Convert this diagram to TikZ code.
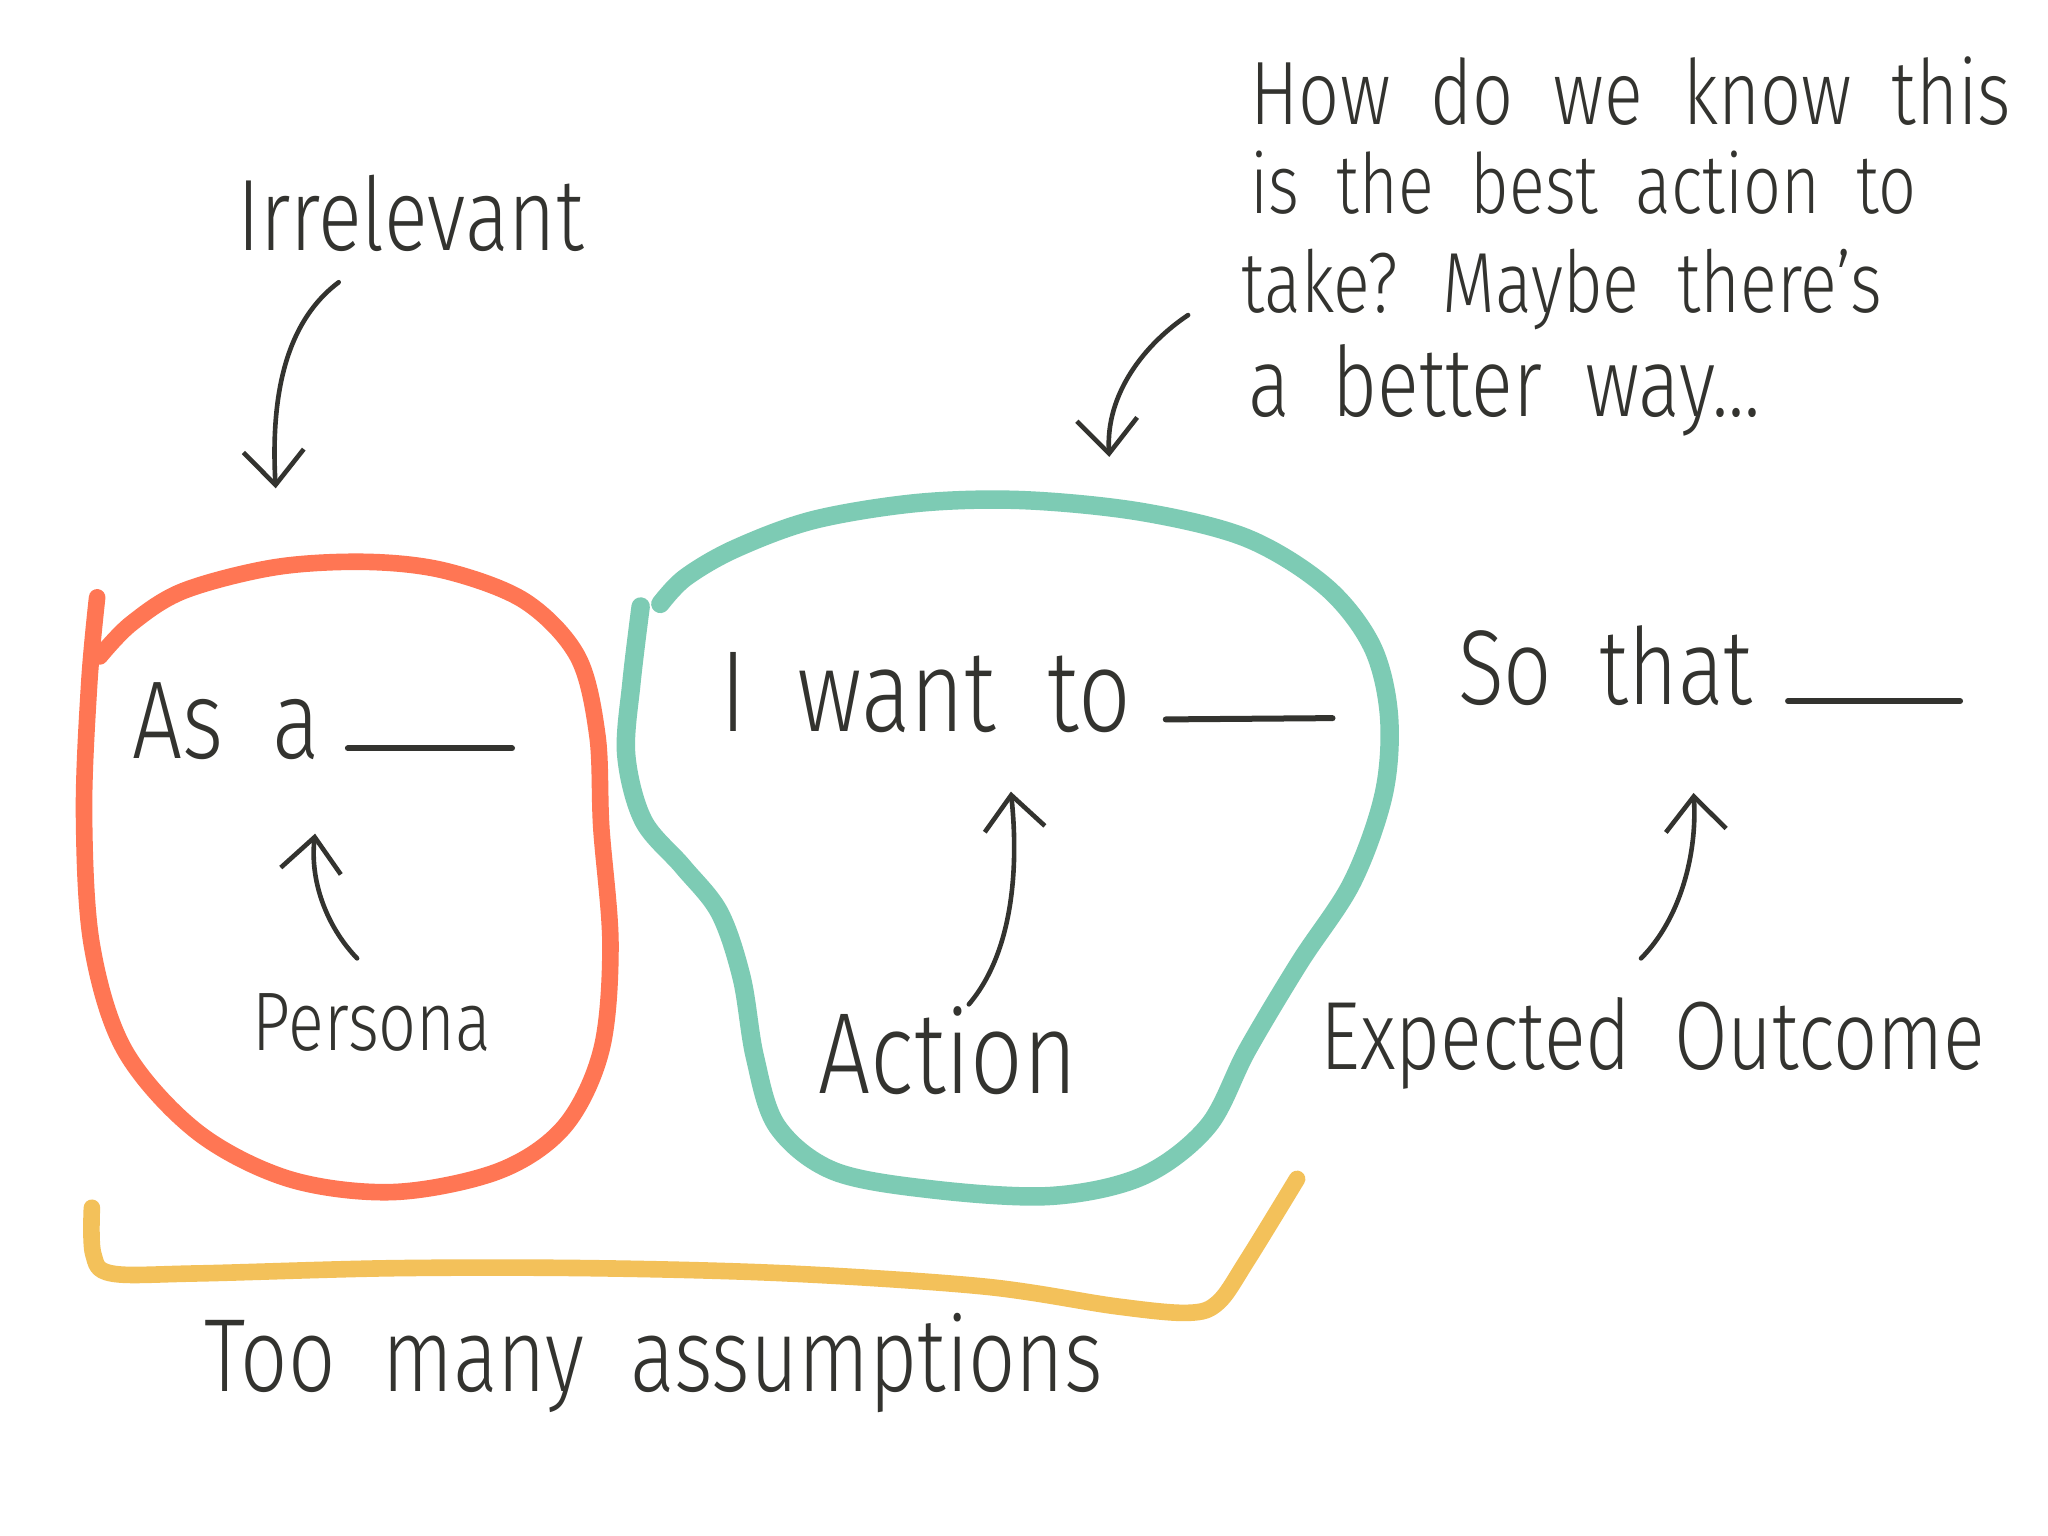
\documentclass[tikz,border=0pt]{standalone}
\usepackage{fontspec}
\setmainfont{Fira Sans Light}[FakeStretch=0.8, WordSpace=2]
\usetikzlibrary{arrows.meta}
\definecolor{ink}{HTML}{33332F}
\definecolor{redline}{HTML}{FF7654}
\definecolor{tealline}{HTML}{7DCBB4}
\definecolor{yellowline}{HTML}{F3C15A}
\newcommand{\hw}[1]{\fontsize{#1}{#1}\selectfont}

\begin{document}
\begin{tikzpicture}[x=0.01cm, y=-0.01cm, line cap=round, line join=round,
    hand/.style={text=ink, inner sep=0pt, anchor=base west},
    arr/.style={draw=ink, line width=1pt, -{Straight Barb[length=0.26cm, width=0.46cm, line width=1pt]}},
    blank/.style={draw=ink, line width=1.3pt},
    loopline/.style={line width=3.6pt, smooth, tension=0.55}]
    \fill[white] (0,0) rectangle (1560,1170);
    \useasboundingbox (0,0) rectangle (1560,1170);
    % labels
    \node[hand, font=\hw{22}] (irr) at (180,191) {Irrelevant};
    \node[hand, font=\hw{19.5}] (q1) at (952,95) {How do we know this};
    \node[hand, font=\hw{18}] (q2) at (952,163) {is the best action to};
    \node[hand, font=\hw{18.5}] (q3) at (945,238) {take? Maybe there's};
    \node[hand, font=\hw{21}] (q4) at (950,317) {a better way...};
    \node[hand, font=\hw{24}] (asa) at (100,578) {As a};
    \node[hand, font=\hw{18}] (persona) at (192,800) {Persona};
    \node[hand, font=\hw{25}] (iwant) at (548,557) {I want to};
    \node[hand, font=\hw{25}] (action) at (623,833) {Action};
    \node[hand, font=\hw{23}] (sothat) at (1110,537) {So that};
    \node[hand, font=\hw{21}] (outcome) at (1005,815) {Expected Outcome};
    \node[hand, font=\hw{22.5}] (toomany) at (155,1060) {Too many assumptions};
    % blanks to fill in
    \draw[blank] (265,570) -- (390,570);
    \draw[blank] (888,548) -- (1015,547);
    \draw[blank] (1362,534) -- (1493,534);
    % arrow ends
    \coordinate (irrFrom) at (258,215);
    \coordinate (irrTo) at (210,372);
    \coordinate (askFrom) at (905,240);
    \coordinate (askTo) at (845,348);
    \coordinate (perFrom) at (272,730);
    \coordinate (perTo) at (240,635);
    \coordinate (actFrom) at (738,765);
    \coordinate (actTo) at (770,603);
    \coordinate (outFrom) at (1250,730);
    \coordinate (outTo) at (1290,604);
    \draw[arr] (irrFrom) .. controls (218,245) and (206,300) .. (irrTo);
    \draw[arr] (askFrom) .. controls (872,262) and (842,300) .. (askTo);
    \draw[arr] (perFrom) .. controls (248,705) and (236,670) .. (perTo);
    \draw[arr] (actFrom) .. controls (772,725) and (776,660) .. (actTo);
    \draw[arr] (outFrom) .. controls (1280,700) and (1293,650) .. (outTo);
    % persona loop
    \draw[loopline, draw=redline] plot coordinates {(74,455) (68,520) (64,620) (70,720) (95,800) (150,862) (220,898) (300,908) (380,892) (430,858) (458,800) (465,720) (458,630) (455,560) (440,500) (400,458) (340,435) (280,428) (210,432) (140,450) (100,475) (76,500)};
    % action loop
    \draw[loopline, draw=tealline, line width=4pt] plot coordinates {(488,462) (481,520) (477,575) (490,625) (520,660) (548,695) (565,745) (575,805) (592,858) (635,892) (710,906) (800,911) (870,896) (920,858) (950,800) (990,733) (1030,672) (1054,605) (1058,545) (1045,492) (1010,447) (950,410) (870,390) (780,381) (700,383) (620,396) (560,418) (522,440) (503,460)};
    % bracket
    \draw[loopline, draw=yellowline] plot coordinates {(70,920) (71,955) (85,970) (150,970) (300,966) (450,966) (600,970) (750,980) (850,995) (905,1000) (928,992) (950,960) (988,898)};
\end{tikzpicture}
\end{document}
